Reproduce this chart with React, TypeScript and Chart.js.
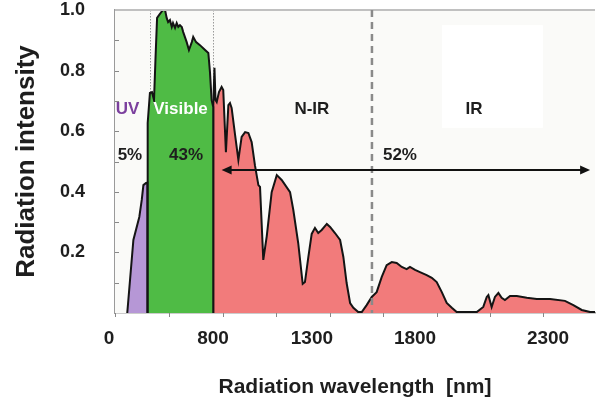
import React, { useEffect, useRef } from 'react';
import { Chart, registerables } from 'chart.js';

Chart.register(...registerables);

// ---- data (wavelength in nm, normalised intensity) ----
const uvWave = [310, 340, 369, 381, 389, 402, 408, 408];
const uvIntensity = [0, 0.241, 0.317, 0.373, 0.422, 0.429, 0.43, 0];

const visWave = [408, 410, 421, 431, 441, 448, 456, 470, 485, 495, 503, 510, 519, 528, 534, 544, 552, 560, 568, 577, 584, 601, 612, 626, 633, 647, 666, 691, 707, 715, 723, 731, 731];
const visIntensity = [0, 0.627, 0.726, 0.729, 0.703, 0.835, 0.974, 0.987, 1.0, 1.0, 0.974, 0.96, 0.967, 0.944, 0.957, 0.941, 0.957, 0.944, 0.95, 0.944, 0.927, 0.894, 0.868, 0.894, 0.911, 0.894, 0.884, 0.868, 0.858, 0.795, 0.703, 0.68, 0];

const irWave = [731, 731, 737, 742, 748, 759, 772, 780, 793, 805, 813, 821, 838, 854, 870, 887, 903, 919, 935, 952, 960, 976, 993, 1017, 1042, 1066, 1107, 1123, 1147, 1169, 1180, 1196, 1213, 1229, 1245, 1262, 1287, 1303, 1327, 1352, 1368, 1384, 1401, 1417, 1441, 1458, 1482, 1507, 1531, 1556, 1580, 1605, 1629, 1654, 1678, 1694, 1719, 1743, 1776, 1801, 1825, 1850, 1874, 1899, 1923, 2021, 2053, 2070, 2078, 2094, 2110, 2127, 2143, 2159, 2184, 2217, 2266, 2315, 2380, 2453, 2494, 2535, 2576, 2600];
const irIntensity = [0, 0.68, 0.809, 0.703, 0.696, 0.729, 0.746, 0.736, 0.531, 0.686, 0.693, 0.677, 0.587, 0.505, 0.581, 0.597, 0.594, 0.564, 0.488, 0.422, 0.416, 0.175, 0.254, 0.399, 0.455, 0.439, 0.399, 0.34, 0.231, 0.096, 0.102, 0.182, 0.261, 0.281, 0.264, 0.274, 0.294, 0.284, 0.264, 0.241, 0.185, 0.099, 0.033, 0.017, 0.003, 0.003, 0.026, 0.053, 0.069, 0.119, 0.158, 0.168, 0.165, 0.152, 0.145, 0.152, 0.142, 0.135, 0.125, 0.116, 0.102, 0.069, 0.033, 0.017, 0.003, 0.003, 0.02, 0.053, 0.059, 0.02, 0.053, 0.066, 0.05, 0.043, 0.056, 0.056, 0.05, 0.046, 0.046, 0.04, 0.026, 0.01, 0.003, 0.003];

// ---- axis ticks ----
const xTickValues = [221, 730, 1214, 1719, 2370];
const xTickLabels = ['0', '800', '1300', '1800', '2300'];
const xMinorTicks = [250, 514, 779, 1038, 1303, 1562, 1826, 2086, 2346];
const yMinorTicks = [0.1, 0.2, 0.3, 0.4, 0.5, 0.6, 0.7, 0.8, 0.9];

// ---- annotations ----
const bandEdges = [421, 731];
const irBoundary = 1508;
const arrowFrom = 772;
const arrowTo = 2576;
const arrowLevel = 0.472;
const regionNames = ['UV', 'Visible', 'N-IR', 'IR'];
const regionNameX = [311, 571, 1214, 2008];
const regionNameLevel = 0.673;
const shareTexts = ['5%', '43%', '52%'];
const shareX = [323, 598, 1645];
const shareLevel = 0.521;
const irBox = { x0: 1851, x1: 2345, y0: 0.611, y1: 0.95 };

const FONT = '"Liberation Sans", Arial, sans-serif';

const toPoints = (xs: number[], ys: number[]) => xs.map((x, i) => ({ x, y: ys[i] }));

const decorPlugin = {
  id: 'decor',
  beforeDatasetsDraw(chart: any) {
    const { ctx, chartArea: ca, scales } = chart;
    const xs = scales.x;
    const ys = scales.y;
    ctx.save();
    ctx.fillStyle = '#fafaf8';
    ctx.fillRect(ca.left, ca.top, ca.right - ca.left, ca.bottom - ca.top);
    // white box behind IR label
    ctx.fillStyle = '#ffffff';
    const bx0 = xs.getPixelForValue(irBox.x0);
    const bx1 = xs.getPixelForValue(irBox.x1);
    const by0 = ys.getPixelForValue(irBox.y1);
    const by1 = ys.getPixelForValue(irBox.y0);
    ctx.fillRect(bx0, by0, bx1 - bx0, by1 - by0);
    // dotted band edges
    ctx.strokeStyle = '#9a9a9a';
    ctx.lineWidth = 1;
    ctx.setLineDash([1.5, 1.5]);
    bandEdges.forEach((v) => {
      const px = Math.round(xs.getPixelForValue(v)) + 0.5;
      ctx.beginPath();
      ctx.moveTo(px, ca.top);
      ctx.lineTo(px, ca.bottom);
      ctx.stroke();
    });
    ctx.restore();
  },
  afterDatasetsDraw(chart: any) {
    const { ctx, chartArea: ca, scales } = chart;
    const xs = scales.x;
    const ys = scales.y;
    ctx.save();
    // top frame
    ctx.strokeStyle = '#c0c0c0';
    ctx.lineWidth = 2;
    ctx.beginPath();
    ctx.moveTo(ca.left, ca.top);
    ctx.lineTo(ca.right, ca.top);
    ctx.stroke();
    // tick marks
    ctx.strokeStyle = '#888';
    ctx.lineWidth = 1;
    xMinorTicks.forEach((v) => {
      const px = Math.round(xs.getPixelForValue(v)) + 0.5;
      ctx.beginPath();
      ctx.moveTo(px, ca.bottom);
      ctx.lineTo(px, ca.bottom + 4);
      ctx.stroke();
    });
    yMinorTicks.forEach((v) => {
      const py = Math.round(ys.getPixelForValue(v)) + 0.5;
      ctx.beginPath();
      ctx.moveTo(ca.left, py);
      ctx.lineTo(ca.left + 4, py);
      ctx.stroke();
    });
    // dashed N-IR / IR boundary
    ctx.strokeStyle = '#8a8a8a';
    ctx.lineWidth = 2.5;
    ctx.setLineDash([7, 5]);
    const bx = xs.getPixelForValue(irBoundary);
    ctx.beginPath();
    ctx.moveTo(bx, ca.top);
    ctx.lineTo(bx, ca.bottom);
    ctx.stroke();
    ctx.setLineDash([]);
    // arrow
    const ay = ys.getPixelForValue(arrowLevel);
    const ax0 = xs.getPixelForValue(arrowFrom);
    const ax1 = xs.getPixelForValue(arrowTo);
    ctx.strokeStyle = '#111';
    ctx.fillStyle = '#111';
    ctx.lineWidth = 2;
    ctx.beginPath();
    ctx.moveTo(ax0 + 6, ay);
    ctx.lineTo(ax1 - 6, ay);
    ctx.stroke();
    ctx.beginPath();
    ctx.moveTo(ax0, ay);
    ctx.lineTo(ax0 + 10, ay - 4.5);
    ctx.lineTo(ax0 + 10, ay + 4.5);
    ctx.closePath();
    ctx.fill();
    ctx.beginPath();
    ctx.moveTo(ax1, ay);
    ctx.lineTo(ax1 - 10, ay - 4.5);
    ctx.lineTo(ax1 - 10, ay + 4.5);
    ctx.closePath();
    ctx.fill();
    // texts
    ctx.textAlign = 'center';
    ctx.textBaseline = 'middle';
    ctx.font = 'bold 17px ' + FONT;
    const nameColors = ['#7b3f9e', '#ffffff', '#1e1e1e', '#1e1e1e'];
    regionNames.forEach((t, i) => {
      ctx.fillStyle = nameColors[i];
      ctx.fillText(t, xs.getPixelForValue(regionNameX[i]), ys.getPixelForValue(regionNameLevel));
    });
    ctx.fillStyle = '#1e1e1e';
    shareTexts.forEach((t, i) => {
      ctx.fillText(t, xs.getPixelForValue(shareX[i]), ys.getPixelForValue(shareLevel));
    });
    ctx.restore();
  },
};

export default function App() {
  const ref = useRef<HTMLCanvasElement>(null);
  useEffect(() => {
    const chart = new Chart(ref.current as HTMLCanvasElement, {
      type: 'line',
      data: {
        datasets: [
          {
            label: 'UV',
            data: toPoints(uvWave, uvIntensity),
            backgroundColor: '#b697d6',
            borderColor: '#141414',
            borderWidth: 2,
            fill: 'origin',
            pointRadius: 0,
            tension: 0,
          },
          {
            label: 'Visible',
            data: toPoints(visWave, visIntensity),
            backgroundColor: '#4fbb45',
            borderColor: '#141414',
            borderWidth: 2,
            fill: 'origin',
            pointRadius: 0,
            tension: 0,
          },
          {
            label: 'IR',
            data: toPoints(irWave, irIntensity),
            backgroundColor: '#f27b7b',
            borderColor: '#141414',
            borderWidth: 2,
            fill: 'origin',
            pointRadius: 0,
            tension: 0,
          },
        ],
      },
      options: {
        animation: false,
        responsive: false,
        devicePixelRatio: 1,
        parsing: false as any,
        layout: { padding: { top: 10, right: 1, left: 0, bottom: 0 } },
        plugins: { legend: { display: false }, tooltip: { enabled: false } },
        scales: {
          x: {
            type: 'linear',
            min: 250,
            max: 2600,
            grid: { display: false, drawTicks: false },
            border: { display: true, color: '#9a9a9a', width: 1.5 },
            afterBuildTicks: (scale: any) => {
              scale.ticks = xTickValues.map((value) => ({ value }));
            },
            afterFit: (scale: any) => {
              scale.height = 88;
              scale.paddingLeft = 0;
              scale.paddingRight = 0;
            },
            ticks: {
              autoSkip: false,
              maxRotation: 0,
              padding: 14,
              color: '#1e1e1e',
              font: { family: FONT, size: 19, weight: 'bold' },
              callback: (_v: any, i: number) => xTickLabels[i],
            },
            title: {
              display: true,
              text: 'Radiation wavelength  [nm]',
              color: '#1e1e1e',
              font: { family: FONT, size: 21, weight: 'bold' },
              padding: { top: 0, bottom: 1 },
            },
          },
          y: {
            type: 'linear',
            min: 0,
            max: 1.0,
            grid: { display: false, drawTicks: false },
            border: { display: true, color: '#9a9a9a', width: 1.5 },
            afterFit: (scale: any) => {
              scale.width = 115;
              scale.paddingTop = 0;
              scale.paddingBottom = 0;
            },
            ticks: {
              stepSize: 0.2,
              padding: 30,
              color: '#1e1e1e',
              font: { family: FONT, size: 18, weight: 'bold' },
              callback: (v: any) => (Number(v) === 0 ? '' : Number(v).toFixed(1)),
            },
            title: {
              display: true,
              text: 'Radiation intensity',
              color: '#1e1e1e',
              font: { family: FONT, size: 26, weight: 'bold' },
              padding: { top: 11, bottom: 0 },
            },
          },
        },
      },
      plugins: [decorPlugin],
    });
    return () => chart.destroy();
  }, []);
  return (
    <div style={{ position: 'absolute', left: 0, top: 0, width: 596, height: 401, background: '#ffffff', overflow: 'hidden' }}>
      <canvas ref={ref} width={596} height={401} style={{ display: 'block' }} />
    </div>
  );
}
